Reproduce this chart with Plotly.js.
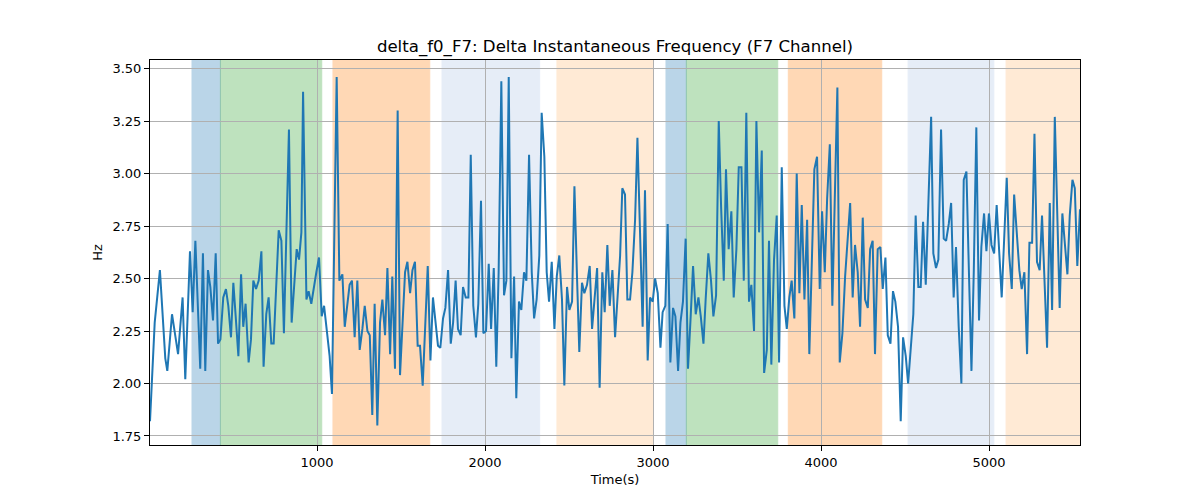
<!DOCTYPE html>
<html>
<head>
<meta charset="utf-8">
<script src="https://cdn.plot.ly/plotly-3.0.1.min.js"></script>
<style>
  body { margin: 0; background: #fff; }
  #chart { width: 1200px; height: 500px; }
</style>
</head>
<body>
<div id="chart"></div>
<script>
// time stamps (s) and delta f0 values (Hz)
const times = [
  6, 34, 65, 97, 109, 137, 173, 200, 216, 244, 260, 276, 305, 321, 335, 351, 365, 381, 397, 411,
  425, 442, 458, 472, 488, 502, 516, 532, 548, 561, 575, 593, 607, 621, 637, 653, 669, 682, 698, 712,
  728, 742, 772, 788, 803, 833, 849, 879, 893, 907,
  917, 937, 950, 966, 996, 1012, 1028, 1042, 1060, 1075, 1089, 1117, 1133, 1151, 1165, 1194, 1208, 1224, 1240, 1254,
  1270, 1284, 1300, 1314, 1329, 1343, 1359, 1375, 1389, 1405, 1419, 1435, 1448, 1464, 1480, 1494, 1524, 1538, 1554, 1568,
  1583, 1599, 1613, 1629, 1659, 1675, 1690, 1704, 1720, 1734, 1750, 1764, 1780, 1796, 1810, 1825, 1839, 1855,
  1869, 1885, 1901, 1915, 1930, 1946, 1960, 1976, 1990, 2006, 2022, 2036, 2052, 2067, 2081, 2097, 2113, 2127, 2141, 2157,
  2173, 2186, 2202, 2216, 2232, 2246, 2262, 2278, 2292, 2307, 2323, 2337, 2353, 2367, 2381, 2397, 2413, 2427, 2442, 2458,
  2472, 2488, 2502, 2518, 2532, 2548, 2561, 2577, 2591, 2607, 2623, 2637, 2653, 2667, 2682, 2698, 2712, 2728, 2742, 2758,
  2774, 2788, 2804, 2817, 2833, 2847, 2863, 2877, 2893, 2907, 2923, 2938, 2952, 2968, 2982, 2998, 3012, 3028, 3044, 3057,
  3073, 3087, 3103, 3119, 3133, 3149, 3163, 3178, 3194, 3208, 3224, 3238, 3254, 3270, 3284, 3300, 3313, 3329, 3345, 3359,
  3375, 3391, 3405, 3421, 3434, 3450, 3466, 3480, 3496, 3510, 3526, 3540, 3555, 3571, 3585, 3601, 3615, 3631, 3647, 3661,
  3677, 3690,
  3704, 3720, 3736, 3750, 3766, 3782, 3796, 3811, 3825, 3841, 3855, 3871, 3885, 3901, 3917, 3930, 3960, 3976, 3992, 4006,
  4022, 4036, 4052, 4067, 4081, 4097, 4111, 4127, 4143, 4157, 4173, 4188, 4202, 4218, 4232, 4248, 4262, 4278, 4292, 4307,
  4321, 4337, 4353, 4367, 4383, 4397, 4413, 4428, 4442, 4458, 4474, 4488, 4504, 4518, 4534, 4549, 4563, 4579, 4593,
  4607, 4623, 4639, 4655, 4668, 4684, 4698, 4714, 4730, 4744, 4760, 4774, 4789, 4803, 4819, 4835, 4849, 4865, 4879, 4895,
  4909, 4924, 4940, 4954, 4970, 4984, 4999, 5014, 5030, 5045, 5075, 5105, 5119, 5135, 5149, 5164, 5180, 5194, 5210, 5226,
  5240, 5256, 5270, 5285, 5301, 5315, 5331, 5345, 5361, 5375, 5391, 5407, 5420, 5436, 5450, 5466, 5480, 5496, 5510, 5525,
  5541
];
const hz = [
  1.82, 2.29, 2.54, 2.12, 2.06, 2.33, 2.14, 2.41, 2.02, 2.63, 2.34, 2.68, 2.07, 2.62, 2.06, 2.54, 2.46, 2.30, 2.62, 2.19,
  2.21, 2.41, 2.45, 2.37, 2.22, 2.48, 2.32, 2.13, 2.52, 2.27, 2.38, 2.10, 2.21, 2.49, 2.45, 2.49, 2.63, 2.08, 2.33, 2.41,
  2.19, 2.19, 2.73, 2.68, 2.24, 3.21, 2.29, 2.64, 2.59, 2.72,
  3.39, 2.40, 2.44, 2.38, 2.53, 2.60, 2.32, 2.37, 2.24, 2.13, 1.95, 3.46, 2.49, 2.52, 2.27, 2.47, 2.49, 2.22, 2.49, 2.16,
  2.26, 2.37, 2.25, 2.23, 1.85, 2.38, 1.80, 2.29, 2.40, 2.23, 2.55, 2.14, 2.51, 2.07, 3.30, 2.04, 2.53, 2.58, 2.43, 2.54,
  2.58, 2.18, 2.18, 1.99, 2.56, 2.11, 2.41, 2.29, 2.18, 2.17, 2.31, 2.36, 2.54, 2.19, 2.29, 2.49, 2.26, 2.23,
  2.46, 2.41, 2.41, 3.09, 2.37, 2.22, 2.38, 2.87, 2.24, 2.25, 2.57, 2.26, 2.55, 2.08, 2.53, 3.44, 2.42, 2.49, 3.46, 2.12,
  2.51, 1.93, 2.39, 2.35, 2.53, 2.49, 3.09, 2.53, 2.31, 2.40, 2.61, 3.29, 3.08, 2.53, 2.39, 2.58, 2.26, 2.51, 2.61, 2.40,
  1.99, 2.46, 2.35, 2.39, 2.94, 2.49, 2.15, 2.48, 2.43, 2.47, 2.56, 2.26, 2.41, 2.55, 1.98, 2.53, 2.34, 2.66, 2.37, 2.54,
  2.22, 2.43, 2.61, 2.93, 2.90, 2.40, 2.40, 2.53, 2.78, 3.17, 2.72, 2.27, 2.92, 2.11, 2.41, 2.39, 2.50, 2.43, 2.17, 2.34,
  2.37, 2.76, 2.10, 2.36, 2.32, 2.06, 2.29, 2.39, 2.69, 2.07, 2.32, 2.56, 2.33, 2.41, 2.32, 2.19, 2.40, 2.62, 2.49, 2.32,
  2.42, 3.25, 2.84, 2.49, 3.02, 2.64, 2.82, 2.41, 2.64, 3.03, 3.03, 2.49, 3.29, 2.39, 2.47, 2.25, 3.25, 2.72, 3.11, 2.05,
  2.16, 2.68,
  2.09, 2.59, 2.80, 2.10, 3.03, 2.37, 2.26, 2.41, 2.49, 2.31, 3.00, 2.43, 2.85, 2.40, 2.78, 2.14, 3.02, 3.08, 2.45, 2.82,
  2.53, 2.88, 3.14, 2.37, 2.86, 3.41, 2.10, 2.24, 2.51, 2.70, 2.86, 2.41, 2.66, 2.53, 2.27, 2.79, 2.40, 2.36, 2.64, 2.68,
  2.14, 2.64, 2.65, 2.45, 2.60, 2.23, 2.19, 2.44, 2.39, 2.27, 1.82, 2.22, 2.13, 2.00, 2.18, 2.33, 2.80, 2.46, 2.46,
  2.77, 2.47, 2.88, 3.27, 2.62, 2.55, 2.59, 3.21, 2.69, 2.68, 2.76, 2.86, 2.41, 2.65, 2.27, 2.00, 2.97, 3.01, 2.56, 2.06,
  2.54, 3.22, 2.30, 2.65, 2.81, 2.63, 2.81, 2.66, 2.62, 2.85, 2.41, 2.98, 2.62, 2.45, 2.90, 2.70, 2.54, 2.45, 2.53, 2.14,
  2.67, 2.67, 3.19, 2.58, 2.54, 2.80, 2.43, 2.17, 2.86, 2.35, 3.27, 2.72, 2.36, 2.81, 2.68, 2.52, 2.80, 2.97, 2.93, 2.56,
  2.83
];

// shaded segments
const spanStart = [256, 425, 1095, 1744, 2428, 3077, 3198, 3805, 4518, 5101];
const spanEnd   = [425, 1028, 1671, 2325, 3002, 3198, 3742, 4361, 5028, 5541];
const spanKind  = ['blue', 'green', 'orange', 'lightblue', 'lightorange',
                   'blue', 'green', 'orange', 'lightblue', 'lightorange'];

const yTicks = [1.75, 2.00, 2.25, 2.50, 2.75, 3.00, 3.25, 3.50];
const xTicks = [1000, 2000, 3000, 4000, 5000];

const palette = {
  blue: '#1f77b4',
  green: '#2ca02c',
  orange: '#ff7f0e',
  lightblue: '#aec7e8',
  lightorange: '#ffbb78'
};

const shapes = spanStart.map((s, i) => ({
  type: 'rect',
  xref: 'x', yref: 'paper',
  x0: s, x1: spanEnd[i], y0: 0, y1: 1,
  fillcolor: palette[spanKind[i]],
  line: { color: palette[spanKind[i]], width: 1 },
  opacity: 0.3,
  layer: 'below'
}));

const trace = {
  x: times,
  y: hz,
  mode: 'lines',
  type: 'scatter',
  line: { color: '#1f77b4', width: 2 },
  hoverinfo: 'x+y'
};

const axisCommon = {
  showline: true,
  linecolor: '#000',
  linewidth: 1,
  mirror: true,
  ticks: 'outside',
  ticklen: 5,
  tickwidth: 1,
  tickcolor: '#000',
  showgrid: true,
  gridcolor: '#b0b0b0',
  gridwidth: 1,
  zeroline: false,
  tickfont: { family: 'DejaVu Sans', size: 13, color: '#000' }
};

const layout = {
  width: 1200,
  height: 500,
  margin: { l: 150, r: 120, t: 60, b: 55 },
  paper_bgcolor: '#fff',
  plot_bgcolor: '#fff',
  showlegend: false,
  font: { family: 'DejaVu Sans', color: '#000' },
  title: {
    text: 'delta_f0_F7: Delta Instantaneous Frequency (F7 Channel)',
    font: { family: 'DejaVu Sans', size: 16.6, color: '#000' },
    x: 0.5125, xanchor: 'center',
    y: 0.908, yanchor: 'middle'
  },
  xaxis: Object.assign({}, axisCommon, {
    range: [6, 5541],
    tickvals: xTicks,
    ticktext: xTicks.map(String),
    title: { text: 'Time(s)', font: { family: 'DejaVu Sans', size: 13, color: '#000' }, standoff: 6 }
  }),
  yaxis: Object.assign({}, axisCommon, {
    range: [1.707, 3.541],
    tickvals: yTicks,
    ticktext: yTicks.map(v => v.toFixed(2)),
    title: { text: 'Hz', font: { family: 'DejaVu Sans', size: 13, color: '#000' }, standoff: 6 }
  }),
  shapes: shapes
};

Plotly.newPlot('chart', [trace], layout, { displayModeBar: false, responsive: false });
</script>
</body>
</html>
